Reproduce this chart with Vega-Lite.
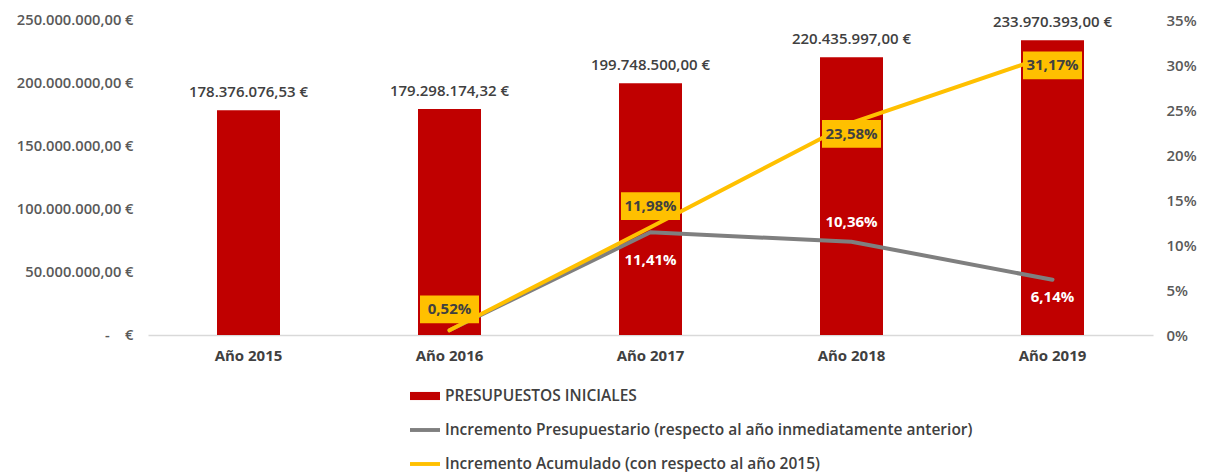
{
  "$schema": "https://vega.github.io/schema/vega-lite/v6.json",
  "width": 1005,
  "height": 315,
  "autosize": {"type": "none"},
  "padding": {"left": 148, "top": 20, "right": 55, "bottom": 137},
  "background": "white",
  "config": {
    "locale": {"number": {"decimal": ",", "thousands": ".", "grouping": [3], "currency": ["", " €"]}},
    "view": {"stroke": null},
    "font": "Open Sans",
    "axis": {"grid": false, "ticks": false, "title": null, "labelFont": "Open Sans", "labelFontSize": 14.7, "labelFontWeight": 600, "labelColor": "#595959"}
  },
  "datasets": {
    "presupuestos": [
      {"anio": "Año 2015", "serie": "PRESUPUESTOS INICIALES", "presupuesto": 178376076.53},
      {"anio": "Año 2016", "serie": "PRESUPUESTOS INICIALES", "presupuesto": 179298174.32},
      {"anio": "Año 2017", "serie": "PRESUPUESTOS INICIALES", "presupuesto": 199748500.00},
      {"anio": "Año 2018", "serie": "PRESUPUESTOS INICIALES", "presupuesto": 220435997.00},
      {"anio": "Año 2019", "serie": "PRESUPUESTOS INICIALES", "presupuesto": 233970393.00}
    ],
    "incrementos": [
      {"anio": "Año 2016", "tipo": "anual", "serie": "Incremento Presupuestario (respecto al año inmediatamente anterior)", "valor": 0.0052},
      {"anio": "Año 2017", "tipo": "anual", "serie": "Incremento Presupuestario (respecto al año inmediatamente anterior)", "valor": 0.1141},
      {"anio": "Año 2018", "tipo": "anual", "serie": "Incremento Presupuestario (respecto al año inmediatamente anterior)", "valor": 0.1036},
      {"anio": "Año 2019", "tipo": "anual", "serie": "Incremento Presupuestario (respecto al año inmediatamente anterior)", "valor": 0.0614},
      {"anio": "Año 2016", "tipo": "acumulado", "serie": "Incremento Acumulado (con respecto al año 2015)", "valor": 0.0052},
      {"anio": "Año 2017", "tipo": "acumulado", "serie": "Incremento Acumulado (con respecto al año 2015)", "valor": 0.1198},
      {"anio": "Año 2018", "tipo": "acumulado", "serie": "Incremento Acumulado (con respecto al año 2015)", "valor": 0.2358},
      {"anio": "Año 2019", "tipo": "acumulado", "serie": "Incremento Acumulado (con respecto al año 2015)", "valor": 0.3117}
    ]
  },
  "encoding": {
    "x": {
      "field": "anio", "type": "nominal",
      "scale": {"domain": ["Año 2015", "Año 2016", "Año 2017", "Año 2018", "Año 2019"], "paddingInner": 0, "paddingOuter": 0},
      "axis": {"labelAngle": 0, "labelColor": "#404040", "labelFontWeight": "bold", "labelFontSize": 15, "labelPadding": 13, "domainColor": "#D9D9D9", "domainWidth": 1.5}
    }
  },
  "layer": [
    {
      "data": {"name": "presupuestos"},
      "encoding": {
        "y": {
          "field": "presupuesto", "type": "quantitative",
          "scale": {"domain": [0, 250000000], "nice": false},
          "axis": {"orient": "left", "domain": false, "values": [0, 50000000, 100000000, 150000000, 200000000, 250000000], "labelPadding": 15,
                   "labelExpr": "datum.value == 0 ? '-\u00a0\u00a0\u00a0\u00a0€' : format(datum.value, '$,.2f')"}
        }
      },
      "layer": [
        {
          "mark": {"type": "bar", "size": 63},
          "encoding": {
            "color": {
              "field": "serie", "type": "nominal",
              "scale": {
                "domain": ["PRESUPUESTOS INICIALES", "Incremento Presupuestario (respecto al año inmediatamente anterior)", "Incremento Acumulado (con respecto al año 2015)"],
                "range": ["#C00000", "#7F7F7F", "#FFC000"]
              },
              "legend": {
                "orient": "none", "legendX": 262, "legendY": 361, "title": null, "direction": "vertical",
                "symbolSize": 900, "labelFont": "Open Sans", "labelFontSize": 15.5, "labelFontWeight": 600, "labelColor": "#404040",
                "rowPadding": 10, "labelOffset": 5, "padding": 0, "labelLimit": 800,
                "encode": {
                  "symbols": {
                    "update": {
                      "shape": {"signal": "datum.value === 'PRESUPUESTOS INICIALES' ? 'M-1,-0.27H1V0.27H-1Z' : 'M-1,-0.13H1V0.13H-1Z'"},
                      "fill": {"scale": "color", "field": "value"},
                      "strokeWidth": {"value": 0},
                      "opacity": {"value": 1}
                    }
                  }
                }
              }
            }
          }
        },
        {
          "mark": {"type": "text", "fontSize": 15, "fontWeight": 600, "color": "#404040", "baseline": "middle", "dy": -18},
          "encoding": {"text": {"field": "presupuesto", "type": "quantitative", "format": "$,.2f"}}
        }
      ]
    },
    {
      "data": {"name": "incrementos"},
      "encoding": {
        "y": {
          "field": "valor", "type": "quantitative",
          "scale": {"domain": [0, 0.35], "nice": false},
          "axis": {"orient": "right", "domain": false, "format": ".0%", "values": [0, 0.05, 0.1, 0.15, 0.2, 0.25, 0.3, 0.35], "labelAlign": "left", "labelPadding": 13, "labelFontSize": 15}
        }
      },
      "layer": [
        {
          "transform": [{"filter": "datum.tipo == 'anual'"}],
          "mark": {"type": "line", "strokeWidth": 4, "strokeCap": "round"},
          "encoding": {"color": {"field": "serie", "type": "nominal"}}
        },
        {
          "transform": [{"filter": "datum.tipo == 'acumulado'"}],
          "mark": {"type": "line", "strokeWidth": 4, "strokeCap": "round"},
          "encoding": {"color": {"field": "serie", "type": "nominal"}}
        },
        {
          "transform": [{"filter": "datum.tipo == 'anual' && datum.anio == 'Año 2017'"}],
          "mark": {"type": "text", "fontSize": 15, "fontWeight": "bold", "color": "#FFFFFF", "baseline": "middle", "dy": 28},
          "encoding": {"text": {"field": "valor", "type": "quantitative", "format": ".2%"}}
        },
        {
          "transform": [{"filter": "datum.tipo == 'anual' && datum.anio == 'Año 2019'"}],
          "mark": {"type": "text", "fontSize": 15, "fontWeight": "bold", "color": "#FFFFFF", "baseline": "middle", "dy": 17},
          "encoding": {"text": {"field": "valor", "type": "quantitative", "format": ".2%"}}
        },
        {
          "transform": [{"filter": "datum.tipo == 'anual' && datum.anio == 'Año 2018'"}],
          "mark": {"type": "text", "fontSize": 15, "fontWeight": "bold", "color": "#FFFFFF", "baseline": "middle", "dy": -20},
          "encoding": {"text": {"field": "valor", "type": "quantitative", "format": ".2%"}}
        },
        {
          "transform": [{"filter": "datum.tipo == 'acumulado' && (datum.anio == 'Año 2016' || datum.anio == 'Año 2017')"}],
          "mark": {"type": "point", "shape": "M-1,-0.47H1V0.47H-1Z", "size": 3481, "filled": true, "color": "#FFC000", "opacity": 1, "yOffset": -21}
        },
        {
          "transform": [{"filter": "datum.tipo == 'acumulado' && (datum.anio == 'Año 2016' || datum.anio == 'Año 2017')"}],
          "mark": {"type": "text", "fontSize": 15, "fontWeight": "bold", "color": "#404040", "baseline": "middle", "dy": -21},
          "encoding": {"text": {"field": "valor", "type": "quantitative", "format": ".2%"}}
        },
        {
          "transform": [{"filter": "datum.tipo == 'acumulado' && (datum.anio == 'Año 2018' || datum.anio == 'Año 2019')"}],
          "mark": {"type": "point", "shape": "M-1,-0.47H1V0.47H-1Z", "size": 3481, "filled": true, "color": "#FFC000", "opacity": 1, "yOffset": 11}
        },
        {
          "transform": [{"filter": "datum.tipo == 'acumulado' && (datum.anio == 'Año 2018' || datum.anio == 'Año 2019')"}],
          "mark": {"type": "text", "fontSize": 15, "fontWeight": "bold", "color": "#404040", "baseline": "middle", "dy": 11},
          "encoding": {"text": {"field": "valor", "type": "quantitative", "format": ".2%"}}
        }
      ]
    }
  ],
  "resolve": {"scale": {"y": "independent"}}
}
